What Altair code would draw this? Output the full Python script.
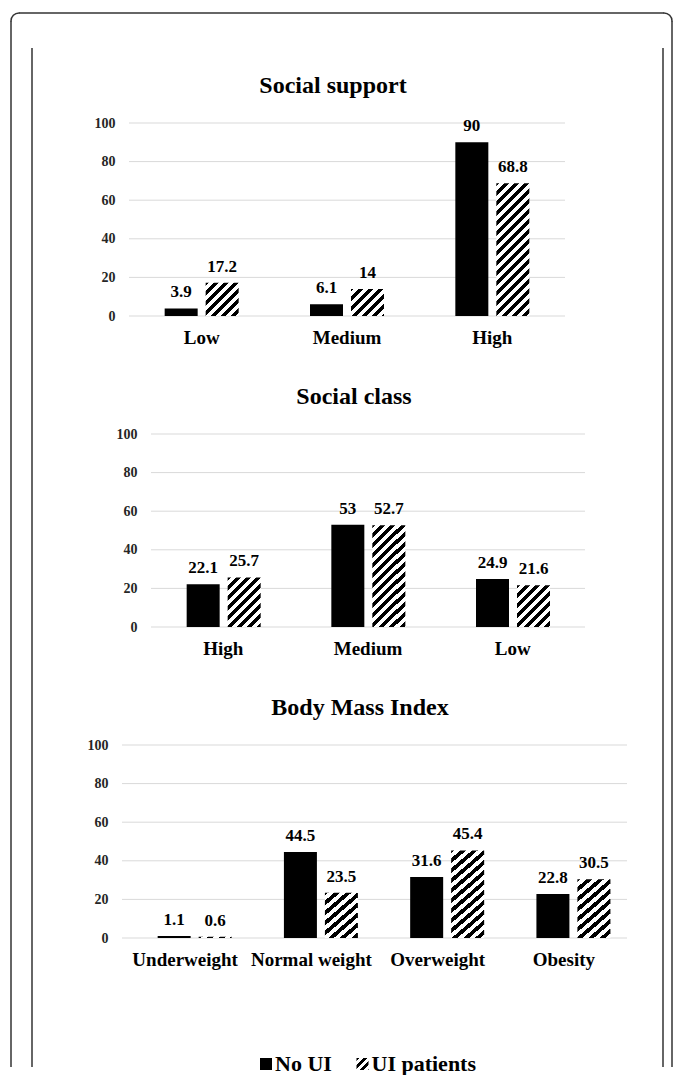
import altair as alt

FONT = "Liberation Serif"

groups = ["No UI", "UI patients"]
ticks = [0, 20, 40, 60, 80, 100]

ss_cats = ["Low", "Medium", "High"]
ss_noui = [3.9, 6.1, 90]
ss_ui = [17.2, 14, 68.8]

sc_cats = ["High", "Medium", "Low"]
sc_noui = [22.1, 53, 24.9]
sc_ui = [25.7, 52.7, 21.6]

bmi_cats = ["Underweight", "Normal weight", "Overweight", "Obesity"]
bmi_noui = [1.1, 44.5, 31.6, 22.8]
bmi_ui = [0.6, 23.5, 45.4, 30.5]

PLOT_LEFT = 122   # common left edge of the plot areas (page px)
W = 505
H = 193
SPACING = 118
LEG_TOP = 123 + 3 * (H + SPACING)   # page y of the legend row


def hatch(w, h, period=10.0, black=5.0, phase=-2.0):
    """Linear gradient with hard stops giving 45-degree stripes on a w x h box."""
    w = max(w, 0.5)
    h = max(h, 0.5)
    L = w + h
    k = L / (w * w + h * h)
    stops = []

    def t(s):
        return min(max(s / L, 0.0), 1.0)

    p = phase - period
    while p < L:
        for a, b, col in ((p, p + black, "#000000"), (p + black, p + period, "#ffffff")):
            a2, b2 = max(a, 0.0), min(b, L)
            if b2 > a2:
                stops.append({"offset": t(a2), "color": col})
                stops.append({"offset": t(b2), "color": col})
        p += period
    return {"gradient": "linear", "x1": 0, "y1": 0, "x2": k * w, "y2": k * h,
            "stops": stops}


def fmt(v):
    return f"{v:g}"


def panel(title, cats, noui, ui, x0, x1, bar_w, gap, y_off, title_dx):
    r0, r1 = x0 - PLOT_LEFT, x1 - PLOT_LEFT
    step = (x1 - x0) / len(cats)
    pi = gap / (bar_w + gap)
    po = (step / (bar_w + gap) - 2 + pi) / 2
    rows = []
    for c, a, b in zip(cats, noui, ui):
        rows.append({"cat": c, "grp": groups[0], "v": a, "lab": fmt(a), "fill": "#000000"})
        rows.append({"cat": c, "grp": groups[1], "v": b, "lab": fmt(b),
                     "fill": hatch(bar_w, b / 100 * H)})
    data = alt.Data(values=rows)
    yscale = alt.Scale(domain=[0, 100], nice=False)
    yaxis = alt.Axis(title=None, values=ticks, grid=False, ticks=False, tickSize=0,
                     domain=False, labelPadding=0, offset=y_off, labelFont=FONT,
                     labelFontSize=14, labelFontWeight="bold", labelColor="#262626")
    xaxis = alt.Axis(title=None, labelAngle=0, ticks=False, tickSize=0, domain=False,
                     grid=False, labelPadding=12, labelFont=FONT, labelFontSize=19,
                     labelFontWeight="bold", labelColor="#000000")
    xscale = alt.Scale(range=[r0, r1], paddingInner=0, paddingOuter=0)
    xoff = alt.XOffset("grp:N", sort=groups,
                       scale=alt.Scale(paddingInner=pi, paddingOuter=po))

    grid = alt.Chart(alt.Data(values=[{"v": t} for t in ticks])).mark_rule(
        color="#d9d9d9", strokeWidth=1
    ).encode(
        y=alt.Y("v:Q", scale=yscale, axis=yaxis),
        x=alt.value(r0), x2=alt.value(r1),
    )
    bars = alt.Chart(data).mark_bar().encode(
        x=alt.X("cat:N", sort=cats, scale=xscale, axis=xaxis), xOffset=xoff,
        y=alt.Y("v:Q", scale=yscale, axis=yaxis),
        fill=alt.Fill("fill:N", scale=None),
    )
    labels = alt.Chart(data).mark_text(
        dy=-16, baseline="middle", font=FONT, fontSize=17, fontWeight="bold",
        color="#000000"
    ).encode(
        x=alt.X("cat:N", sort=cats, scale=xscale, axis=xaxis), xOffset=xoff,
        y=alt.Y("v:Q", scale=yscale, axis=yaxis),
        text="lab:N",
    )
    return alt.layer(grid, bars, labels).properties(
        width=W, height=H,
        title=alt.TitleParams(title, font=FONT, fontSize=24, fontWeight="bold",
                              color="#000000", anchor="middle", frame="group",
                              dx=title_dx, offset=6, baseline="middle"),
    )


p1 = panel("Social support", ss_cats, ss_noui, ss_ui, 129, 565, 33, 8, 7, -41.5)
p2 = panel("Social class", sc_cats, sc_noui, sc_ui, 151, 585, 32.5, 8, -15, -20.5)
p3 = panel("Body Mass Index", bmi_cats, bmi_noui, bmi_ui, 122, 627, 28.5, 8, 14, -14.5)

# legend row (also carries the page frame, drawn relative to this row)
leg_rows = [{"k": groups[0], "fill": "#000000"},
            {"k": groups[1], "fill": hatch(12, 12, 8.0, 4.0, -1.0)}]
leg_x = alt.X("k:N", sort=groups, axis=None,
              scale=alt.Scale(type="point", range=[144, 240.5], padding=0))
leg_sym = alt.Chart(alt.Data(values=leg_rows)).mark_square(size=144, opacity=1).encode(
    x=leg_x, y=alt.value(8), fill=alt.Fill("fill:N", scale=None))
leg_txt = alt.Chart(alt.Data(values=leg_rows)).mark_text(
    align="left", baseline="middle", dx=9, font=FONT, fontSize=22, fontWeight="bold",
    color="#000000").encode(x=leg_x, y=alt.value(8), text="k:N")

fd = alt.Data(values=[{"f": 1}])
line = "#333333"
OL, OR, IL, IR = 11, 672, 32, 663
R = 8
top_outer = 13 - LEG_TOP
top_inner = 48 - LEG_TOP
bottom = 1067 - LEG_TOP


def vrule(xp, y0):
    return alt.Chart(fd).mark_rule(color=line, strokeWidth=1.5).encode(
        x=alt.value(xp - PLOT_LEFT), y=alt.value(y0), y2=alt.value(bottom))


outer_t = alt.Chart(fd).mark_rule(color=line, strokeWidth=1.5).encode(
    x=alt.value(OL + R - PLOT_LEFT), x2=alt.value(OR - R - PLOT_LEFT), y=alt.value(top_outer))
corner_l = alt.Chart(fd).mark_arc(
    stroke=line, strokeWidth=1.5, strokeJoin="round", fill=None, filled=False,
    radius=R, innerRadius=R, theta=4.712389, theta2=6.283185
).encode(x=alt.value(OL + R - PLOT_LEFT), y=alt.value(top_outer + R))
corner_r = alt.Chart(fd).mark_arc(
    stroke=line, strokeWidth=1.5, strokeJoin="round", fill=None, filled=False,
    radius=R, innerRadius=R, theta=0, theta2=1.570796
).encode(x=alt.value(OR - R - PLOT_LEFT), y=alt.value(top_outer + R))

legend = alt.layer(
    outer_t, corner_l, corner_r,
    vrule(OL, top_outer + R), vrule(OR, top_outer + R),
    vrule(IL, top_inner), vrule(IR, top_inner),
    leg_sym, leg_txt,
).properties(width=W, height=16)

chart = alt.vconcat(p1, p2, p3, legend, spacing=SPACING, bounds="flush").configure_view(
    stroke=None
).properties(padding={"left": 2, "top": 4, "right": 0, "bottom": 0})

chart.save("out.html", embed_options={"renderer": "svg", "actions": False})
